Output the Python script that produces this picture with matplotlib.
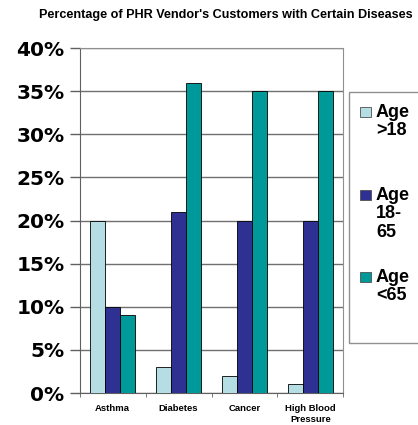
import numpy as np
import matplotlib.pyplot as plt
from matplotlib.patches import Rectangle

categories = ['Asthma', 'Diabetes', 'Cancer', 'High Blood\nPressure']
series = ['Age\n>18', 'Age\n18-\n65', 'Age\n<65']
age_lt18 = [20, 3, 2, 1]
age_18_65 = [10, 21, 20, 20]
age_gt65 = [9, 36, 35, 35]
colors = ['#B5DEE4', '#2E3192', '#009999']

W, H = 418, 425
fig = plt.figure(figsize=(W / 100, H / 100), dpi=100)
ax = fig.add_axes([0.191, 0.075, 0.630, 0.812])

x = np.arange(len(categories))
w = 0.226
for i, (vals, c) in enumerate(zip([age_lt18, age_18_65, age_gt65], colors)):
    ax.bar(x + (i - 1) * w, vals, w, color=c, edgecolor='black', linewidth=0.6, zorder=3)

ax.set_xlim(-0.5, 3.5)
ax.set_ylim(0, 40)
ax.set_yticks(np.arange(0, 41, 5))
ax.set_yticklabels(['%d%%' % v for v in range(0, 41, 5)],
                   fontfamily='DejaVu Sans', fontweight='bold', fontsize=14.5)
ax.yaxis.grid(True, color='#707070', linewidth=1.0, zorder=0)
ax.tick_params(axis='y', length=7, width=1, color='#606060', pad=4)

ax.set_xticks(x)
ax.set_xticklabels(categories, fontfamily='Liberation Sans', fontweight='bold',
                   fontsize=6.8, linespacing=1.3)
ax.set_xticks(np.arange(-0.5, 4, 1), minor=True)
ax.tick_params(axis='x', which='major', length=0, pad=8)
ax.tick_params(axis='x', which='minor', length=3, color='#606060')

for s in ['top', 'right']:
    ax.spines[s].set_color('#909090')
for s in ['left', 'bottom']:
    ax.spines[s].set_color('#606060')

fig.text(0.541, 0.965, "Percentage of PHR Vendor's Customers with Certain Diseases",
         ha='center', va='center', fontfamily='Liberation Sans', fontweight='bold',
         fontsize=9.1)

# legend box running off the right edge, entries laid out like the original
fig.patches.append(Rectangle((349 / W, 1 - 343 / H), 0.3, (343 - 92) / H,
                             transform=fig.transFigure, facecolor='white',
                             edgecolor='#909090', linewidth=1))
entry_tops = [105, 188, 270]
for lab, c, top in zip(series, colors, entry_tops):
    fig.patches.append(Rectangle((360 / W, 1 - (top + 12) / H), 11 / W, 10 / H,
                                 transform=fig.transFigure, facecolor=c,
                                 edgecolor='#505050', linewidth=0.6))
    fig.text(376 / W, 1 - (top - 1) / H, lab, ha='left', va='top',
             fontfamily='Liberation Sans', fontweight='bold', fontsize=13,
             linespacing=1.1)

fig.savefig('out.png', dpi=100)
